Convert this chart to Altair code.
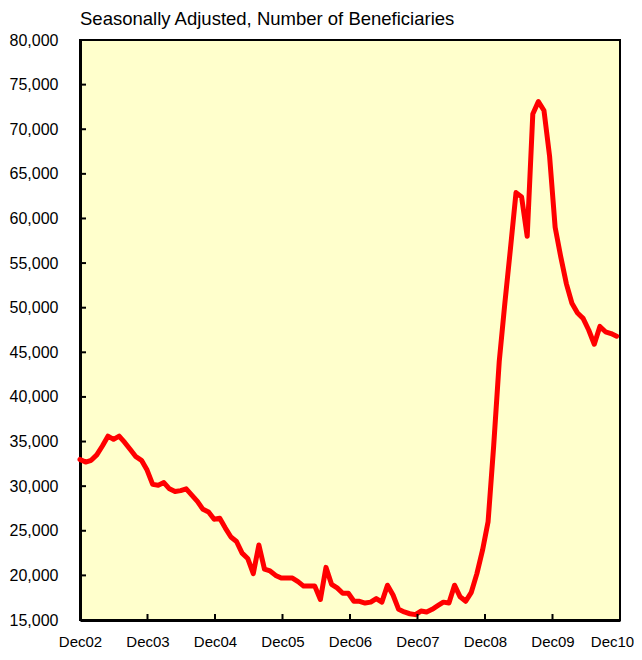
import altair as alt
import pandas as pd

# Monthly beneficiaries, Dec02 (index 0) .. Dec10 (index 96)
beneficiaries = [
    33000, 32700, 32900, 33500, 34500, 35600, 35250, 35600, 34900, 34100, 33300, 32900,
    31800, 30200, 30100, 30400, 29700, 29400, 29500, 29700, 29000, 28300, 27400, 27100,
    26300, 26400, 25300, 24300, 23800, 22500, 21900, 20200, 23400, 20700, 20500, 20000,
    19700, 19700, 19700, 19300, 18800, 18800, 18800, 17300, 20900, 19000, 18600, 18000,
    18000, 17100, 17100, 16900, 17000, 17400, 17000, 18900, 17800, 16200, 15900, 15700,
    15600, 16000, 15900, 16200, 16600, 17000, 16900, 18900, 17600, 17100, 18100, 20200,
    22800, 26000, 34500, 44000, 50500, 56600, 62900, 62400, 58000, 71700, 73100, 72100,
    67000, 59000, 55700, 52700, 50500, 49400, 48800, 47500, 45900, 47900, 47300, 47100,
    46800,
]
year_labels = ["Dec02", "Dec03", "Dec04", "Dec05", "Dec06", "Dec07", "Dec08", "Dec09", "Dec10"]
y_tick_values = [15000, 20000, 25000, 30000, 35000, 40000, 45000, 50000, 55000,
                 60000, 65000, 70000, 75000, 80000]

X_MAX = 96.6
step = X_MAX / 8
x_tick_values = [step * k for k in range(len(year_labels))]

df = pd.DataFrame({"m": list(range(len(beneficiaries))), "v": beneficiaries})
ytick_df = pd.DataFrame({"v": y_tick_values[1:-1]})
xtick_df = pd.DataFrame({"m": x_tick_values[1:-1]})

FONT = "Liberation Sans"
label_arr = "[" + ",".join("'%s'" % s for s in year_labels) + "]"

xscale = alt.Scale(domain=[0, X_MAX], nice=False, zero=False)
yscale = alt.Scale(domain=[15000, 80000], nice=False, zero=False)

line = alt.Chart(df).mark_line(
    color="#FF0000", strokeWidth=5, strokeJoin="round", strokeCap="round"
).encode(
    x=alt.X("m:Q", scale=xscale, title=None,
            axis=alt.Axis(values=x_tick_values,
                          labelExpr=label_arr + "[round(datum.value / %f)]" % step,
                          labelOffset=alt.condition("datum.value > 90", alt.value(-8), alt.value(0)),
                          ticks=False, grid=False, domain=True, domainColor="black",
                          domainWidth=3, labelFont=FONT, labelFontSize=15,
                          labelColor="black", labelPadding=14, labelFlush=False,
                          labelOverlap=False)),
    y=alt.Y("v:Q", scale=yscale, title=None,
            axis=alt.Axis(values=y_tick_values,
                          labelExpr="format(datum.value, ',')",
                          ticks=False, grid=False,
                          domain=True, domainColor="black", domainWidth=3,
                          labelFont=FONT, labelFontSize=16, labelColor="black",
                          labelPadding=22, labelOverlap=False)),
)

yticks = alt.Chart(ytick_df).mark_rule(color="black", strokeWidth=2).encode(
    y=alt.Y("v:Q", scale=yscale),
    x=alt.value(0), x2=alt.value(6),
)
xticks = alt.Chart(xtick_df).mark_rule(color="black", strokeWidth=2).encode(
    x=alt.X("m:Q", scale=xscale),
    y=alt.value(580), y2=alt.value(574),
)

chart = alt.layer(line, yticks, xticks).properties(
    width=540, height=580,
    title=alt.TitleParams("Seasonally Adjusted, Number of Beneficiaries", anchor="start",
                          frame="group",
                          font=FONT, fontSize=18.5, fontWeight="normal", color="black",
                          offset=4),
    autosize=alt.AutoSizeParams(type="none"),
    padding={"left": 72, "top": 32, "right": 14, "bottom": 28},
    background="white",
).configure_view(
    fill="#FFFFCC", stroke="black", strokeWidth=2
)

chart.save("out.html", embed_options={"renderer": "svg", "actions": False})
